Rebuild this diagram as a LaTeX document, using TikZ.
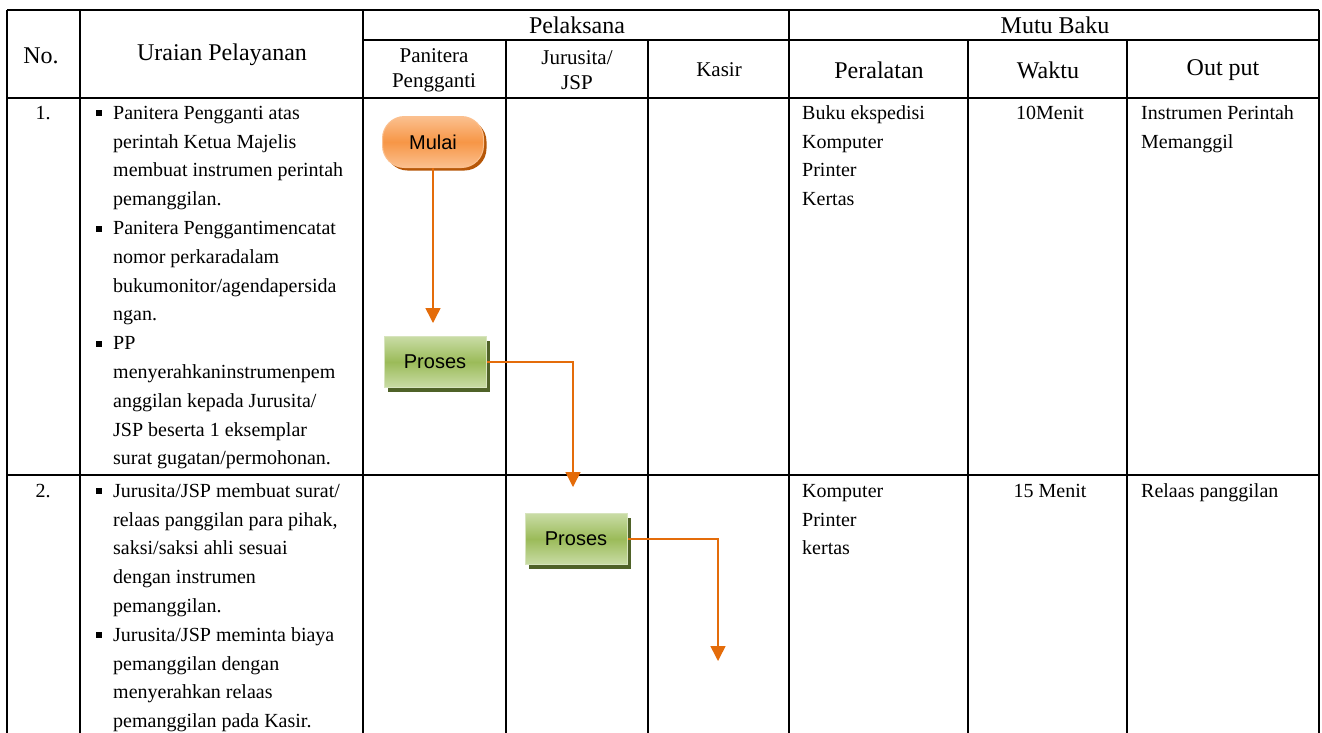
\documentclass[tikz,border=0pt]{standalone}
\usepackage{fontspec}
\setmainfont{Liberation Serif}
\newfontfamily\flowfont{Liberation Sans}
\usetikzlibrary{arrows.meta,positioning,shadows}

\definecolor{orgline}{HTML}{E46C0A}
\definecolor{orgfill}{HTML}{F79646}
\definecolor{orglite}{HTML}{FBC08F}
\definecolor{orgdark}{HTML}{B65708}
\definecolor{grnfill}{HTML}{9BBB59}
\definecolor{grnlite}{HTML}{C9DCA5}
\definecolor{grnedge}{HTML}{D7E4BD}
\definecolor{grndark}{HTML}{4F6228}

% square bullet hanging left of the text
\newcommand{\bul}{\llap{\rule[3pt]{6pt}{6pt}\hspace{11pt}}}

\begin{document}
\begin{tikzpicture}[
    x=1pt, y=-1pt,
    font=\fontsize{20}{28.8}\selectfont,
    >=Stealth,
    tline/.style={line width=1.8pt},
    hd/.style={font=\fontsize{24}{26}\selectfont, inner sep=0pt},
    sub/.style={font=\fontsize{21}{25}\selectfont, align=center, inner sep=0pt},
    cell/.style={anchor=north west, align=left, inner sep=0pt},
    ccell/.style={anchor=north, align=center, inner sep=0pt},
    term/.style={draw=orglite, line width=1pt, rounded corners=22pt,
        minimum width=101pt, minimum height=51pt,
        top color=orglite, bottom color=orglite, middle color=orgfill,
        font=\flowfont\fontsize{20}{24}\selectfont,
        drop shadow={shadow xshift=3pt, shadow yshift=-3pt, fill=orgdark, opacity=1}},
    proc/.style={draw=grnedge, line width=1pt,
        minimum width=102pt, minimum height=51pt,
        top color=grnlite, bottom color=grnlite, middle color=grnfill,
        font=\flowfont\fontsize{20}{24}\selectfont,
        drop shadow={shadow xshift=4pt, shadow yshift=-4pt, fill=grndark, opacity=1}},
    arr/.style={draw=orgline, line width=1.5pt, -{Triangle[width=15pt,length=15pt]}}
]
\useasboundingbox (0,0) rectangle (1322,732);
\fill[white] (0,0) rectangle (1322,732);
\clip (0,0) rectangle (1322,732);

% table rules
\draw[tline] (7,10) -- (1319,10);
\draw[tline] (363,40) -- (1319,40);
\draw[tline] (7,98) -- (1319,98);
\draw[tline] (7,475) -- (1319,475);
\draw[tline] (7,10) -- (7,740);
\draw[tline] (80,10) -- (80,740);
\draw[tline] (363,10) -- (363,740);
\draw[tline] (506,40) -- (506,740);
\draw[tline] (648,40) -- (648,740);
\draw[tline] (789,10) -- (789,740);
\draw[tline] (968,40) -- (968,740);
\draw[tline] (1127,40) -- (1127,740);
\draw[tline] (1319,10) -- (1319,740);

% header
\node[hd] (hno) at (41,56) {No.};
\node[hd] (hur) at (222,55) {Uraian Pelayanan};
\node[hd] (hpel) at (577,25) {Pelaksana};
\node[hd] (hmb) at (1055,25) {Mutu Baku};
\node[sub] (hpp) at (434,70) {Panitera\\Pengganti};
\node[sub] (hjs) at (577,70) {Jurusita/\\JSP};
\node[sub] (hks) at (719,70) {Kasir};
\node[hd] (hal) at (879,70) {Peralatan};
\node[hd] (hwk) at (1048,70) {Waktu};
\node[hd] (hout) at (1223,70) {Out put};

% row 1
\node[ccell] (n1) at (43,99) {\strut 1.};
\node[cell] (u1) at (113,99)
    {\strut\bul Panitera Pengganti atas\\perintah Ketua Majelis\\membuat instrumen perintah\\pemanggilan.\\
     \bul Panitera Penggantimencatat\\nomor perkaradalam\\bukumonitor/agendapersida\\ngan.\\
     \bul PP\\menyerahkaninstrumenpem\\anggilan kepada Jurusita/\\JSP beserta 1 eksemplar\\surat gugatan/permohonan.};
\node[cell] (al1) at (802,99) {\strut Buku ekspedisi\\Komputer\\Printer\\Kertas};
\node[ccell] (wk1) at (1050,99) {\strut 10Menit};
\node[cell] (out1) at (1141,99) {\strut Instrumen Perintah\\Memanggil};

% row 2
\node[ccell] (n2) at (43,477) {\strut 2.};
\node[cell] (u2) at (113,477)
    {\strut\bul Jurusita/JSP membuat surat/\\relaas panggilan para pihak,\\saksi/saksi ahli sesuai\\dengan instrumen\\pemanggilan.\\
     \bul Jurusita/JSP meminta biaya\\pemanggilan dengan\\menyerahkan relaas\\pemanggilan pada Kasir.};
\node[cell] (al2) at (802,477) {\strut Komputer\\Printer\\kertas};
\node[ccell] (wk2) at (1050,477) {\strut 15 Menit};
\node[cell] (out2) at (1141,477) {\strut Relaas panggilan};

% flow
\node[term] (mulai) at (433,142) {Mulai};
\node[proc] (p1) at (435,362) {Proses};
\node[proc] (p2) at (576,539) {Proses};
\coordinate (t1) at (433,323);
\coordinate (t2) at (573,487);
\coordinate (t3) at (718,661);
\draw[arr] (mulai) -- (t1);
\draw[arr] (p1.east) -| (t2);
\draw[arr] (p2.east) -| (t3);
\end{tikzpicture}
\end{document}
